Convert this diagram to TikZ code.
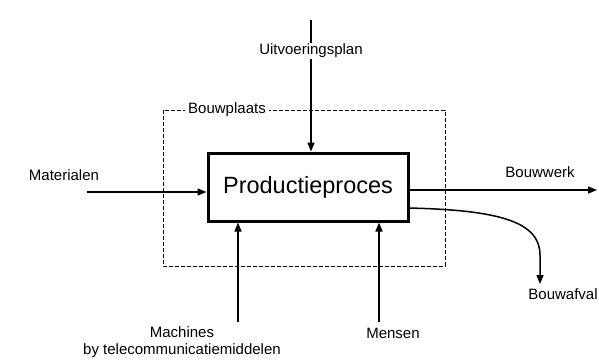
\documentclass[tikz,border=0pt]{standalone}
\usepackage{fontspec}
\setmainfont{Liberation Sans}
\usetikzlibrary{arrows.meta}
\begin{document}
\begin{tikzpicture}[x=1pt,y=-1pt,
  lbl/.style={font=\fontsize{15}{17}\selectfont, inner sep=1pt},
  flow/.style={line width=1.5pt, -{Triangle[length=9pt,width=7pt]}},
  site/.style={line width=1pt, dash pattern=on 4pt off 2pt},
  procbox/.style={draw, line width=3pt, minimum width=200pt, minimum height=68pt,
    font=\fontsize{23.5}{26}\selectfont}]
\useasboundingbox (0,0) rectangle (599,361);

% building site boundary
\draw[site] (163,110) rectangle (445,266);
\node[lbl, fill=white, inner sep=3pt] (site) at (227,110) {Bouwplaats};

% central process
\node[procbox] (proc) at (308,187) {Productieproces};

% control input from above
\coordinate (planTop) at (311,20);
\draw[flow] (planTop) -- (planTop |- proc.north);
\node[lbl, fill=white] (plan) at (311,51) {Uitvoeringsplan};

% input from the left
\node[lbl] (mat) at (64,175) {Materialen};
\coordinate (matIn) at (87,192);
\draw[flow] (matIn) -- (matIn -| proc.west);

% outputs to the right
\coordinate (outA) at (408,190);
\coordinate (werkEnd) at (597,190);
\draw[flow] (outA) -- (werkEnd);
\node[lbl] (werk) at (540,172) {Bouwwerk};

\coordinate (outB) at (408,208);
\coordinate (afvalEnd) at (540,284);
\draw[flow] (outB) .. controls (500,210) and (540,222) .. (540,255) -- (afvalEnd);
\node[lbl] (afval) at (563,294) {Bouwafval};

% resources from below
\coordinate (machIn) at (238,322);
\draw[flow] (machIn) -- (machIn |- proc.south);
\node[lbl, align=center] (mach) at (182,342) {Machines\\by telecommunicatiemiddelen};

\coordinate (mensIn) at (379,322);
\draw[flow] (mensIn) -- (mensIn |- proc.south);
\node[lbl] (mens) at (393,333) {Mensen};
\end{tikzpicture}
\end{document}
